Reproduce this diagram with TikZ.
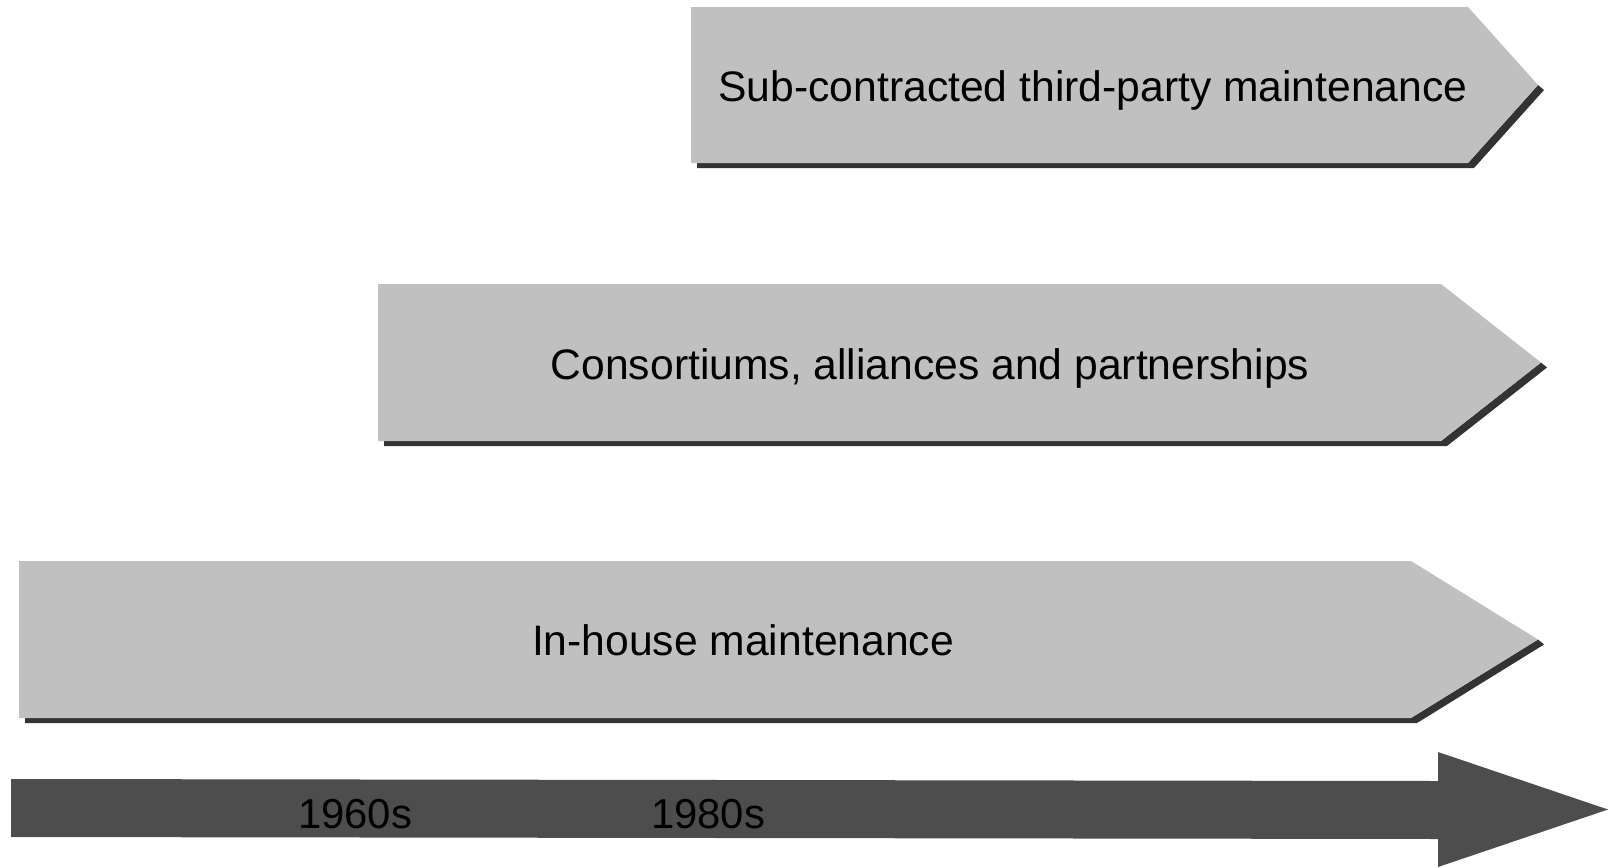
\documentclass[tikz,border=0pt]{standalone}
\usepackage{fontspec}
\setmainfont{Liberation Sans}
\definecolor{barfill}{HTML}{C0C0C0}
\definecolor{barshadow}{HTML}{333333}
\definecolor{axisfill}{HTML}{4D4D4D}
\begin{document}
\begin{tikzpicture}[x=1bp,y=-1bp,
  bar/.style={fill=barfill},
  barshade/.style={fill=barshadow},
  label/.style={inner sep=0pt, anchor=base, font=\fontsize{42.8}{48}\selectfont, text=black},
  axis/.style={fill=axisfill},
  tick/.style={inner sep=0pt, anchor=base, font=\fontsize{42}{48}\selectfont, text=black}]
\useasboundingbox (0,0) rectangle (1608,867);

% pentagon bars: a dark lip along the lower edges, then the face
\foreach \l/\c/\t/\top/\bot in {691/1468/1538/7/163, 378/1441/1541/284/441, 19/1411/1538/561/718}{
  \pgfmathsetmacro{\mid}{(\top+\bot)/2}
  \fill[barshade] (\t,\mid) -- (\t+6,\mid+5) -- (\c+6,\bot+5) -- (\l+6,\bot+5) -- (\l+6,\bot) -- (\c,\bot) -- cycle;
  \fill[bar] (\l,\top) -- (\c,\top) -- (\t,\mid) -- (\c,\bot) -- (\l,\bot) -- cycle;
}

\node[label] (third) at (1093,101.5) {Sub-contracted third-party maintenance};
\node[label] (cons)  at (930,379) {Consortiums, alliances and partnerships};
\node[label] (inhouse) at (743,655.5) {In-house maintenance};

% time axis
\fill[axis] (11,779) -- (1438,781) -- (1438,752) -- (1608,809.5) -- (1438,867) -- (1438,839) -- (11,837) -- cycle;
\node[tick] (y60) at (355,828) {1960s};
\node[tick] (y80) at (708,828) {1980s};
\end{tikzpicture}
\end{document}
